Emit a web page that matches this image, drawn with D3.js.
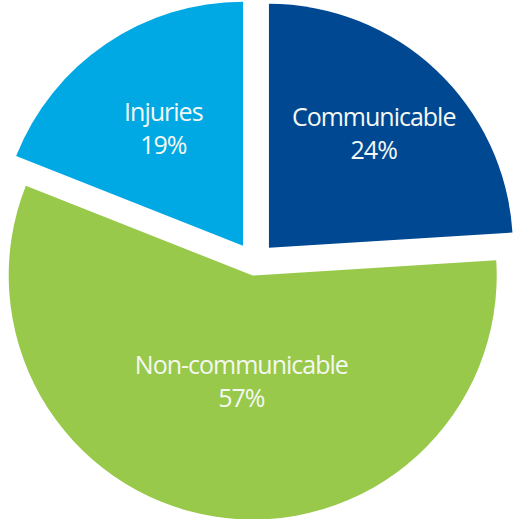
<!DOCTYPE html>
<html>
<head>
<meta charset="utf-8">
<script src="https://cdn.jsdelivr.net/npm/d3@7"></script>
<style>
  html, body { margin: 0; padding: 0; background: #ffffff; }
  svg { display: block; }
</style>
</head>
<body>
<svg id="chart" width="513" height="519"></svg>
<script>
// Share of deaths by cause group
const categories = ["Communicable", "Non-communicable", "Injuries"];
const values = [24, 57, 19];
const valueLabels = ["24%", "57%", "19%"];

const colors = ["#004892", "#98c94a", "#00a8e4"];

const width = 513, height = 519;
const cx = 254.7, cy = 263, radius = 244;

// each wedge is pulled out along its bisector
const explode = { "Communicable": 20.8, "Non-communicable": 12.7, "Injuries": 20.8 };
// distance of the label block from the wedge tip, plus a small nudge
const labelDist = { "Communicable": 153, "Non-communicable": 108, "Injuries": 148 };
const labelNudge = { "Communicable": [0, -5], "Non-communicable": [5.5, -3], "Injuries": [3.5, 2.5] };

const data = categories.map((c, i) => ({ name: c, value: values[i], label: valueLabels[i], color: colors[i] }));

const pie = d3.pie().sort(null).value(d => d.value).startAngle(0).endAngle(2 * Math.PI);
const arcs = pie(data);

const arc = d3.arc().innerRadius(0).outerRadius(radius);

const svg = d3.select("#chart");
const g = svg.append("g").attr("transform", `translate(${cx},${cy})`);

const slice = g.selectAll("g.slice")
  .data(arcs)
  .join("g")
  .attr("class", "slice")
  .attr("transform", d => {
    const mid = (d.startAngle + d.endAngle) / 2;
    const e = explode[d.data.name];
    return `translate(${Math.sin(mid) * e},${-Math.cos(mid) * e})`;
  });

slice.append("path")
  .attr("d", arc)
  .attr("fill", d => d.data.color);

const text = slice.append("text")
  .attr("text-anchor", "middle")
  .attr("fill", "#f4f8f2")
  .attr("font-family", "'Open Sans', 'Noto Sans', sans-serif")
  .attr("font-size", 25)
  .attr("transform", d => {
    const mid = (d.startAngle + d.endAngle) / 2;
    const r = labelDist[d.data.name];
    const [nx, ny] = labelNudge[d.data.name];
    return `translate(${Math.sin(mid) * r + nx},${-Math.cos(mid) * r + ny})`;
  });

text.append("tspan")
  .attr("x", 0)
  .attr("y", -5)
  .attr("letter-spacing", -1)
  .text(d => d.data.name);

text.append("tspan")
  .attr("x", 0)
  .attr("y", 28)
  .attr("letter-spacing", -1)
  .text(d => d.data.label);
</script>
</body>
</html>
